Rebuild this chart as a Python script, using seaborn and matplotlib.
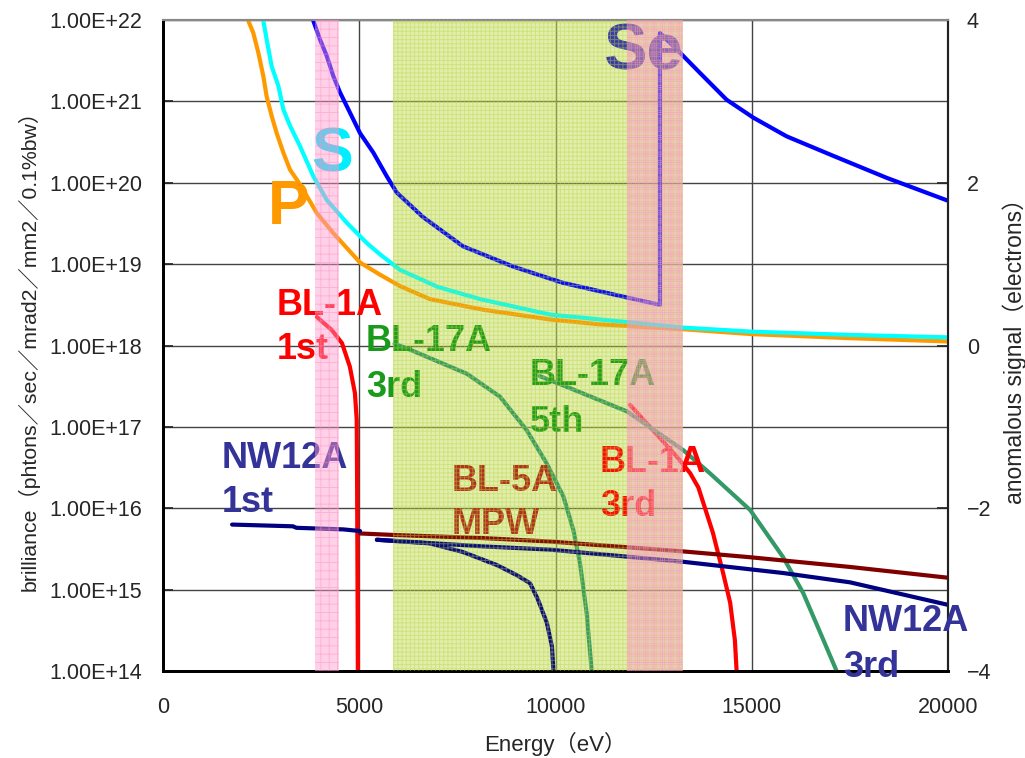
import matplotlib
matplotlib.use("Agg")
import matplotlib.pyplot as plt
from matplotlib.ticker import NullLocator
import seaborn as sns

# ----------------------------
# DATA
# ----------------------------
# brilliance curves, left axis (photons/sec/mrad2/mm2/0.1%bw)
bl1a_1st_e = [3920, 4300, 4560, 4760, 4890, 4935, 4945, 4955, 4965]
bl1a_1st_b = [2.24e18, 1.55e18, 1.07e18, 5.5e17, 2.6e17, 1.23e17, 2.2e16, 1.6e15, 8e13]

bl1a_3rd_e = [11900, 12500, 13090, 13430, 13640, 14010, 14270, 14450, 14570, 14620]
bl1a_3rd_b = [1.86e17, 8.9e16, 4.3e16, 2.7e16, 1.8e16, 5.0e15, 1.6e15, 6.9e14, 2.4e14, 8.9e13]

bl17a_3rd_e = [5900, 6290, 7740, 8585, 9266, 9776, 10200, 10455, 10625, 10795, 10922]
bl17a_3rd_b = [1.05e18, 8.9e17, 4.5e17, 2.35e17, 9.1e16, 3.55e16, 1.4e16, 5.4e15, 2.1e15, 5.1e14, 1.0e14]

bl17a_5th_e = [9600, 10290, 11820, 13250, 13930, 14960, 15800, 16310, 16740, 17170]
bl17a_5th_b = [4.2e17, 3.1e17, 1.55e17, 5.2e16, 2.7e16, 9.5e15, 2.5e15, 9.1e14, 3.0e14, 9.8e13]

bl5a_mpw_e = [5020, 5860, 8150, 9860, 13250, 14960, 17500, 20000]
bl5a_mpw_b = [4.9e15, 4.7e15, 4.3e15, 3.9e15, 2.95e15, 2.5e15, 1.9e15, 1.4e15]

nw12a_1st_e = [1760, 3310, 3400, 4590, 5020]
nw12a_1st_b = [6.3e15, 6.0e15, 5.75e15, 5.5e15, 5.25e15]

nw12a_1st_hi_e = [5450, 6800, 7640, 8510, 9020, 9350, 9550, 9780, 9910, 9960]
nw12a_1st_hi_b = [4.1e15, 3.7e15, 2.9e15, 2.0e15, 1.5e15, 1.2e15, 7.6e14, 3.9e14, 2.0e14, 8e13]

nw12a_3rd_e = [5450, 8150, 9860, 13250, 15800, 17500, 20000]
nw12a_3rd_b = [4.1e15, 3.4e15, 3.1e15, 2.2e15, 1.6e15, 1.23e15, 6.5e14]

# anomalous signal curves, right axis (electrons)
p_e = [2174, 2301, 2428, 2556, 2641, 2769, 2896, 3066, 3236, 3406, 3660, 3915, 4340,
       5019, 5530, 6038, 6800, 8150, 9860, 11130, 13250, 15000, 17500, 20000]
p_s = [3.99, 3.84, 3.60, 3.31, 3.06, 2.82, 2.61, 2.37, 2.16, 2.04, 1.84, 1.63, 1.38,
       1.02, 0.87, 0.73, 0.57, 0.44, 0.32, 0.26, 0.20, 0.14, 0.09, 0.05]

s_e = [2556, 2641, 2769, 2939, 3066, 3236, 3490, 3830, 4170, 4680, 5190, 5530, 6038,
       7000, 8080, 9860, 11130, 13250, 15000, 17500, 20000]
s_s = [3.99, 3.76, 3.43, 3.19, 2.90, 2.70, 2.45, 2.08, 1.79, 1.51, 1.26, 1.12, 0.93,
       0.72, 0.57, 0.38, 0.32, 0.22, 0.17, 0.13, 0.10]

se_e = [3830, 4000, 4170, 4340, 4510, 4765, 5019, 5359, 5700, 5954, 6620, 7640, 8920,
        10190, 11460, 11820, 12660, 12660, 13170, 13680, 14360, 15040, 15890, 17080,
        18440, 20050]
se_s = [3.99, 3.76, 3.56, 3.31, 3.11, 2.86, 2.61, 2.37, 2.08, 1.88, 1.58, 1.22, 0.97,
        0.77, 0.63, 0.59, 0.50, 3.84, 3.60, 3.35, 3.02, 2.80, 2.57, 2.33,
        2.06, 1.77]

# shaded energy windows (eV)
pink_bands = [(3873, 4484), (11822, 13249)]
green_band = (5860, 13249)

x_ticks = [0, 5000, 10000, 15000, 20000]
y_ticks = [1e14, 1e15, 1e16, 1e17, 1e18, 1e19, 1e20, 1e21, 1e22]
y_labels = ["1.00E+14", "1.00E+15", "1.00E+16", "1.00E+17", "1.00E+18",
            "1.00E+19", "1.00E+20", "1.00E+21", "1.00E+22"]
y2_ticks = [-4, -2, 0, 2, 4]

# ----------------------------
# STYLE
# ----------------------------
sns.set_theme(style="white")
plt.rcParams["font.family"] = ["Liberation Sans", "Noto Sans CJK JP"]
plt.rcParams["hatch.linewidth"] = 0.7
plt.rcParams["axes.unicode_minus"] = True

fig = plt.figure(figsize=(10.25, 7.58), dpi=100)
ax = fig.add_axes([163 / 1025, 1 - 671 / 758, 785 / 1025, 651 / 758])
ax.set_yscale("log")
ax.set_xlim(0, 20000)
ax.set_ylim(1e14, 1e22)
ax2 = ax.twinx()
ax2.set_ylim(-4, 4)

# green window face sits under the brilliance curves
ax.axvspan(*green_band, facecolor=(0.72, 0.84, 0.2, 0.36), lw=0, zorder=1)

# ----------------------------
# BRILLIANCE CURVES
# ----------------------------
lw = 3
curves = [
    (bl1a_1st_e, bl1a_1st_b, "#ff0000"),
    (bl1a_3rd_e, bl1a_3rd_b, "#ff0000"),
    (bl17a_3rd_e, bl17a_3rd_b, "#339966"),
    (bl17a_5th_e, bl17a_5th_b, "#339966"),
    (bl5a_mpw_e, bl5a_mpw_b, "#800000"),
    (nw12a_1st_e, nw12a_1st_b, "#000080"),
    (nw12a_1st_hi_e, nw12a_1st_hi_b, "#000080"),
    (nw12a_3rd_e, nw12a_3rd_b, "#000080"),
]
for xs, ys, c in curves:
    sns.lineplot(x=xs, y=ys, ax=ax, color=c, lw=lw, estimator=None, sort=False, zorder=3)

# ----------------------------
# ANOMALOUS SIGNAL CURVES
# ----------------------------
for xs, ys, c in [(p_e, p_s, "#ff9900"), (s_e, s_s, "#00ffff"), (se_e, se_s, "#0000ff")]:
    sns.lineplot(x=xs, y=ys, ax=ax2, color=c, lw=lw, estimator=None, sort=False, zorder=2)

# labels
notes = [
    ("Se", 11210, 3.39, "#3333aa", 47),
    ("S", 3771, 2.14, "#00eeff", 45),
    ("P", 2675, 1.49, "#ff9900", 45),
    ("BL-1A", 2904, 0.37, "#ff0000", 26), ("1st", 2904, -0.17, "#ff0000", 26),
    ("BL-17A", 5172, -0.07, "#1a9a1a", 26), ("3rd", 5172, -0.63, "#1a9a1a", 26),
    ("BL-17A", 9350, -0.48, "#1a9a1a", 26), ("5th", 9350, -1.06, "#1a9a1a", 26),
    ("BL-5A", 7363, -1.79, "#b02818", 26), ("MPW", 7363, -2.32, "#b02818", 26),
    ("BL-1A", 11134, -1.55, "#ff0000", 26), ("3rd", 11134, -2.10, "#ff0000", 26),
    ("NW12A", 1503, -1.50, "#333399", 26), ("1st", 1503, -2.05, "#333399", 26),
    ("NW12A", 17325, -3.51, "#333399", 26), ("3rd", 17325, -4.07, "#333399", 26),
]
for txt, x, y, c, fs in notes:
    ax2.text(x, y, txt, color=c, fontsize=fs, fontweight="bold",
             family="Liberation Sans", ha="left", va="baseline", zorder=3)

# overlays on top: green pattern + pink windows
ax2.axvspan(*green_band, facecolor=(0.75, 0.85, 0.3, 0.06),
            edgecolor=(0.72, 0.84, 0.25, 0.45), hatch="++++", lw=0, zorder=5)
for x0, x1 in pink_bands:
    ax2.axvspan(x0, x1, facecolor=(1.0, 0.6, 0.8, 0.45),
                edgecolor=(1.0, 0.55, 0.75, 0.45), hatch="++", lw=0, zorder=6)

# ----------------------------
# AXES
# ----------------------------
ax.set_xticks(x_ticks)
ax.set_yticks(y_ticks)
ax.set_yticklabels(y_labels)
ax.yaxis.set_minor_locator(NullLocator())
ax.grid(True, which="major", color="#444444", lw=1)
ax.tick_params(axis="y", direction="in", length=7, labelsize=15.5, pad=15)
ax.tick_params(axis="x", direction="in", length=7, labelsize=15.5, pad=19)
ax2.set_yticks(y2_ticks)
ax2.grid(False)
ax2.tick_params(axis="y", direction="in", length=8, labelsize=15.5, pad=13.5)

ax.set_xlabel("Energy（eV）", fontsize=16, labelpad=10)
ax.set_ylabel("brilliance（phtons／sec／mrad2／mm2／0.1%bw）", fontsize=15.3, labelpad=7)
ax2.set_ylabel("anomalous signal（electrons）", fontsize=16.5, labelpad=8)

for a in (ax, ax2):
    a.spines["left"].set_color("black")
    a.spines["left"].set_linewidth(2)
    a.spines["bottom"].set_color("black")
    a.spines["bottom"].set_linewidth(2)
    a.spines["top"].set_color("#888888")
    a.spines["top"].set_linewidth(1.5)
    a.spines["right"].set_color("#222222")
    a.spines["right"].set_linewidth(1.5)

fig.savefig("out.png", dpi=100)
